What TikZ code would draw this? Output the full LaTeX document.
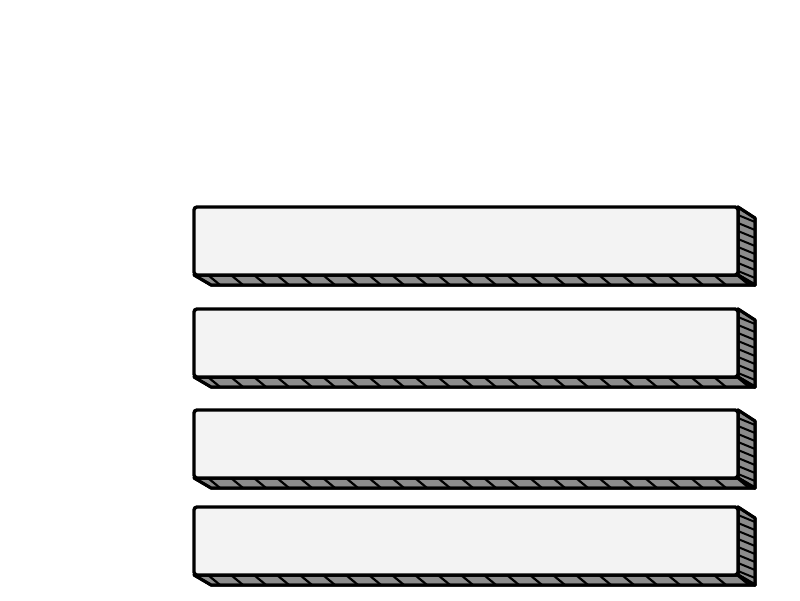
\documentclass[tikz,border=0pt]{standalone}
\usetikzlibrary{calc}
\definecolor{frontfill}{HTML}{F3F3F3}
\definecolor{facegray}{HTML}{8C8C8C}
\begin{document}
\begin{tikzpicture}[x=1pt,y=-1pt,
  barfront/.style={draw=black,line width=3.4pt,fill=frontfill,rounded corners=3pt,minimum width=544pt,minimum height=68pt,inner sep=0pt,outer sep=0pt},
  face/.style={draw=black,line width=3pt,fill=facegray,line join=round},
  stripe/.style={draw=black,line width=2.2pt}]
\useasboundingbox (0,0) rectangle (800,600);
\fill[white] (0,0) rectangle (800,600);
\foreach \n/\y in {1/241,2/343,3/444,4/541}{
  \coordinate (sw\n) at (194,\y+34);
  \coordinate (se\n) at (738,\y+34);
  \coordinate (ne\n) at (738,\y-34);
  % bottom face
  \draw[face] (sw\n) -- ++(17,10) -- ($(se\n)+(17,10)$) -- (se\n) -- cycle;
  \begin{scope}
    \clip (sw\n) -- ++(17,10) -- ($(se\n)+(17,10)$) -- (se\n) -- cycle;
    \foreach \k in {0,...,23}{
      \draw[stripe] ($(sw\n)+(14+23*\k,0)$) -- ++(12,10);
    }
  \end{scope}
  \draw[face,fill=none] (sw\n) -- ++(17,10) -- ($(se\n)+(17,10)$) -- (se\n) -- cycle;
  % right face
  \draw[face] (ne\n) -- ++(17,11) -- ($(se\n)+(17,10)$) -- (se\n) -- cycle;
  \begin{scope}
    \clip (ne\n) -- ++(17,11) -- ($(se\n)+(17,10)$) -- (se\n) -- cycle;
    \foreach \k in {1,...,8}{
      \draw[stripe,line width=2pt] ($(ne\n)+(0,8*\k)$) -- ++(17,7);
    }
  \end{scope}
  \draw[face,fill=none] (ne\n) -- ++(17,11) -- ($(se\n)+(17,10)$) -- (se\n) -- cycle;
  \node[barfront] (bar\n) at (466,\y) {};
}
\end{tikzpicture}
\end{document}
